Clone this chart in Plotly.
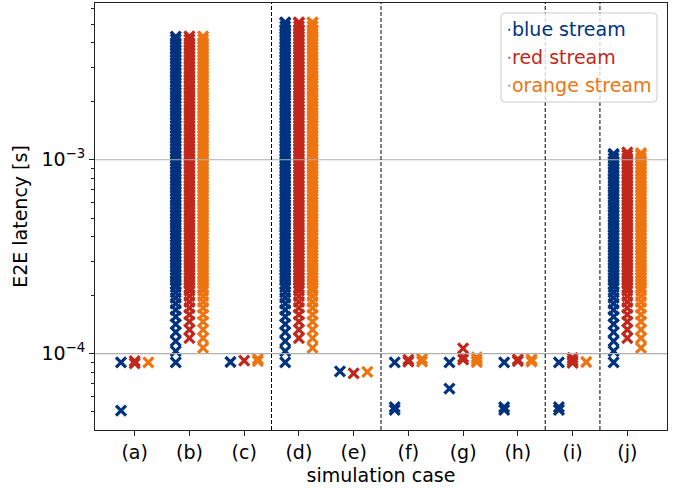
import plotly.graph_objects as go

# ---------------- data ----------------
cases = ["(a)", "(b)", "(c)", "(d)", "(e)", "(f)", "(g)", "(h)", "(i)", "(j)"]
streams = ["blue stream", "red stream", "orange stream"]
colors = ["#00337F", "#C1281B", "#EE7411"]

# latencies in microseconds for the sparse cases (None = dense column case)
blue_us = [[90.0, 50.8], None, [90.5], None, [81.0],
           [90.0, 51.3, 53.0], [90.0, 65.9], [90.0, 51.3, 53.0], [90.0, 51.3, 53.0], None]
red_us = [[89.0, 91.5], None, [92.0], None, [79.0],
          [91.0, 93.0], [93.0, 96.0, 106.5], [91.5, 93.5], [89.5, 92.0, 95.0], None]
orange_us = [[90.0], None, [91.5, 94.0], None, [80.5],
             [91.0, 94.0], [90.5, 93.0, 95.5], [91.0, 93.5], [90.5], None]

# dense cases: distinguishable lower tail, filled body, and top value (microseconds)
dense_cases = ["(b)", "(d)", "(j)"]
blue_tail_us = [90, 103, 116, 129, 142, 155, 168, 181, 194, 207]
red_tail_us = [120, 133, 146, 159, 172, 185, 198, 211]
orange_tail_us = [107, 120, 133, 146, 159, 172, 185, 198, 211]
column_body_us = [220, 229, 238, 247, 257, 268, 278, 289, 301, 313, 326, 339, 352, 366,
                  381, 396, 412, 429, 446, 463, 482, 501, 521, 542, 564, 586, 610, 634,
                  660, 686, 713, 742, 772, 802, 834, 868, 903, 939, 976, 1015, 1056,
                  1098, 1142, 1188, 1235, 1285, 1336, 1390, 1445, 1503, 1563, 1626,
                  1691, 1758, 1829, 1902, 1978, 2057, 2139, 2225, 2314, 2407, 2503,
                  2603, 2707, 2815, 2928, 3045, 3167, 3294, 3425, 3562, 3705, 3853,
                  4007, 4168, 4334, 4508, 4688, 4876, 5071]
blue_top_us = [4310, 5100, 1070]
red_top_us = [4320, 5110, 1090]
orange_top_us = [4320, 5100, 1080]

y_major = [1e-4, 1e-3]
y_major_text = ["10<sup>−4</sup>", "10<sup>−3</sup>"]
y_minor = [5e-5, 6e-5, 7e-5, 8e-5, 9e-5, 2e-4, 3e-4, 4e-4, 5e-4, 6e-4, 7e-4, 8e-4, 9e-4,
           2e-3, 3e-3, 4e-3, 5e-3, 6e-3]
separators = [2.5, 4.5, 7.5, 8.5]

# ---------------- figure ----------------
W, H = 678, 489
ML, MR, MT, MB = 95, 11, 3, 59
PW, PH = W - ML - MR, H - MT - MB
offsets = [-0.25, 0.0, 0.25]


def px(xp):
    return (xp - ML) / PW


def py(yp):
    return (H - MB - yp) / PH


fig = go.Figure()
stream_sparse = [blue_us, red_us, orange_us]
stream_tail = [blue_tail_us, red_tail_us, orange_tail_us]
stream_top = [blue_top_us, red_top_us, orange_top_us]

for s in range(3):
    xs, ys = [], []
    for i, case in enumerate(cases):
        if case in dense_cases:
            top = stream_top[s][dense_cases.index(case)]
            vals = stream_tail[s] + [v for v in column_body_us if v < top] + [top]
        else:
            vals = stream_sparse[s][i]
        for v in vals:
            xs.append(i + offsets[s])
            ys.append(v * 1e-6)
    fig.add_trace(go.Scatter(
        x=xs, y=ys, mode="markers", name=streams[s], showlegend=False,
        marker=dict(symbol="x-thin", size=10, color=colors[s],
                    line=dict(color=colors[s], width=3.2)),
    ))

shapes = []
for yv in y_major:
    shapes.append(dict(type="line", xref="paper", x0=0, x1=1, yref="y", y0=yv, y1=yv,
                       line=dict(color="#b0b0b0", width=1.1), layer="above"))
for xv in separators:
    shapes.append(dict(type="line", xref="x", x0=xv, x1=xv, yref="paper", y0=0, y1=1,
                       line=dict(color="black", width=1, dash="4px,2px"), layer="above"))

# legend box (rounded)
bx0, bx1, by0, by1, r = 501, 657, 13, 102, 4
rx, ry = r / PW, r / PH
X0, X1, Y0, Y1 = px(bx0), px(bx1), py(by1), py(by0)
path = (f"M{X0+rx},{Y0} L{X1-rx},{Y0} Q{X1},{Y0} {X1},{Y0+ry} L{X1},{Y1-ry} "
        f"Q{X1},{Y1} {X1-rx},{Y1} L{X0+rx},{Y1} Q{X0},{Y1} {X0},{Y1-ry} "
        f"L{X0},{Y0+ry} Q{X0},{Y0} {X0+rx},{Y0} Z")
shapes.append(dict(type="path", path=path, xref="paper", yref="paper",
                   fillcolor="rgba(255,255,255,0.8)", line=dict(color="#cccccc", width=1),
                   layer="above"))

annotations = []
leg_y = [29.0, 57.0, 85.0]
for s in range(3):
    shapes.append(dict(type="circle", xref="paper", yref="paper",
                       x0=px(508.3), x1=px(510.3), y0=py(leg_y[s] + 1.8), y1=py(leg_y[s] - 0.2),
                       fillcolor=colors[s], line=dict(width=0), layer="above"))
    annotations.append(dict(xref="paper", yref="paper", x=px(510), y=py(leg_y[s]),
                            xanchor="left", yanchor="middle", showarrow=False,
                            text=streams[s], font=dict(size=19, color=colors[s])))

fig.update_layout(
    width=W, height=H,
    margin=dict(l=ML, r=MR, t=MT, b=MB, pad=0),
    paper_bgcolor="white", plot_bgcolor="white",
    font=dict(family="DejaVu Sans", size=19, color="black"),
    showlegend=False,
    shapes=shapes, annotations=annotations,
    xaxis=dict(
        range=[-0.725, 9.725], tickmode="array", tickvals=list(range(len(cases))),
        ticktext=cases, ticks="outside", ticklen=5, tickwidth=1, tickcolor="#222",
        showline=True, linecolor="#222", linewidth=1, mirror=True,
        showgrid=False, zeroline=False, layer="above traces",
        title=dict(text="simulation case", font=dict(size=19), standoff=6),
        tickfont=dict(size=19),
    ),
    yaxis=dict(
        type="log", range=[-4.394, -2.192], tickmode="array", tickvals=y_major,
        ticktext=y_major_text, ticks="outside", ticklen=5, tickwidth=1, tickcolor="#222",
        minor=dict(ticks="outside", ticklen=3, tickwidth=0.8, tickcolor="#222",
                   tickmode="array", tickvals=y_minor, showgrid=False),
        showline=True, linecolor="#222", linewidth=1, mirror=True,
        showgrid=False, zeroline=False, layer="above traces",
        title=dict(text="E2E latency [s]", font=dict(size=19), standoff=8),
        tickfont=dict(size=19),
    ),
)

fig.write_html("out.html", config={"displayModeBar": False},
               post_script="document.body.style.margin='0px';document.body.style.overflow='hidden';")
